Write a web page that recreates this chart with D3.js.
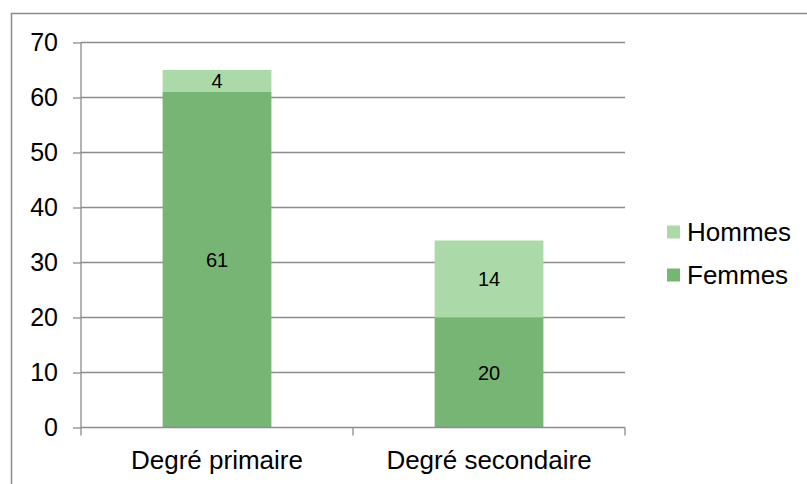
<!DOCTYPE html>
<html>
<head>
<meta charset="utf-8">
<script src="https://cdn.jsdelivr.net/npm/d3@7"></script>
<style>
  html, body { margin: 0; padding: 0; background: #fff; }
  svg { display: block; font-family: "Liberation Sans", Arial, sans-serif; }
</style>
</head>
<body>
<svg id="chart" width="807" height="484"></svg>
<script>
const categories = ["Degré primaire", "Degré secondaire"];
const seriesNames = ["Femmes", "Hommes"];
const femmes = [61, 20];
const hommes = [4, 14];
const yTicks = [0, 10, 20, 30, 40, 50, 60, 70];
const colors = { Femmes: "#77b574", Hommes: "#acd9a8" };

(function () {
const svg = d3.select("#chart");
const W = 807, H = 484;
const mLeft = 81, mRight = 625, mTop = 42.5, mBottom = 427.5;
const gridColor = "#8c8c8c";

// outer border
svg.append("rect")
  .attr("x", 11.5).attr("y", 13.5)
  .attr("width", W + 20).attr("height", H + 20)
  .attr("fill", "none").attr("stroke", "#8c8c8c").attr("stroke-width", 1.5);

const x = d3.scaleBand().domain(categories).range([mLeft, mRight]).padding(0);
const y = d3.scaleLinear().domain([0, 70]).range([mBottom, mTop]);

// gridlines
svg.append("g").selectAll("line").data(yTicks.filter(d => d > 0)).join("line")
  .attr("x1", mLeft).attr("x2", mRight)
  .attr("y1", d => y(d)).attr("y2", d => y(d))
  .attr("stroke", gridColor).attr("stroke-width", 1.3);

// stacked data
const table = categories.map((c, i) => ({ cat: c, Femmes: femmes[i], Hommes: hommes[i] }));
const stack = d3.stack().keys(seriesNames)(table);
const barW = x.bandwidth() * 0.4;

const layers = svg.append("g").selectAll("g").data(stack).join("g")
  .attr("fill", d => colors[d.key]);
layers.selectAll("rect").data(d => d).join("rect")
  .attr("x", d => x(d.data.cat) + (x.bandwidth() - barW) / 2)
  .attr("width", barW)
  .attr("y", d => y(d[1]))
  .attr("height", d => y(d[0]) - y(d[1]));

// data labels
stack.forEach(layer => {
  svg.append("g").selectAll("text").data(layer).join("text")
    .attr("x", d => x(d.data.cat) + x.bandwidth() / 2)
    .attr("y", d => (y(d[0]) + y(d[1])) / 2)
    .attr("dy", "0.36em")
    .attr("text-anchor", "middle")
    .attr("font-size", 20)
    .attr("fill", "#000")
    .text(d => d[1] - d[0]);
});

// y axis
const yAxis = d3.axisLeft(y).tickValues(yTicks).tickSize(8).tickPadding(15);
const gy = svg.append("g").attr("transform", `translate(${mLeft},0)`).call(yAxis);
gy.select(".domain").attr("stroke", gridColor).attr("stroke-width", 1.3)
  .attr("d", `M0,${mTop}V${mBottom}`);
gy.selectAll(".tick line").attr("stroke", gridColor).attr("stroke-width", 1.3);
gy.selectAll(".tick text").attr("font-size", 25).attr("fill", "#000")
  .attr("font-family", "Liberation Sans, Arial, sans-serif");

// x axis
const gx = svg.append("g").attr("transform", `translate(0,${mBottom})`);
gx.append("line").attr("x1", mLeft).attr("x2", mRight).attr("y1", 0).attr("y2", 0)
  .attr("stroke", gridColor).attr("stroke-width", 1.3);
const boundaries = [mLeft].concat(categories.map(c => x(c) + x.bandwidth()));
gx.selectAll("line.tk").data(boundaries).join("line").attr("class", "tk")
  .attr("x1", d => d).attr("x2", d => d).attr("y1", 0).attr("y2", 8)
  .attr("stroke", gridColor).attr("stroke-width", 1.3);
gx.selectAll("text").data(categories).join("text")
  .attr("x", d => x(d) + x.bandwidth() / 2)
  .attr("y", 41)
  .attr("text-anchor", "middle")
  .attr("font-size", 26)
  .attr("fill", "#000")
  .text(d => d);

// legend
const legendItems = ["Hommes", "Femmes"];
const lg = svg.append("g").selectAll("g").data(legendItems).join("g")
  .attr("transform", (d, i) => `translate(667,${232 + i * 43})`);
lg.append("rect").attr("x", 0).attr("y", -6.5).attr("width", 13).attr("height", 13)
  .attr("fill", d => colors[d]);
lg.append("text").attr("x", 20).attr("y", 0).attr("dy", "0.36em")
  .attr("font-size", 26).attr("fill", "#000").text(d => d);
})();
</script>
</body>
</html>
